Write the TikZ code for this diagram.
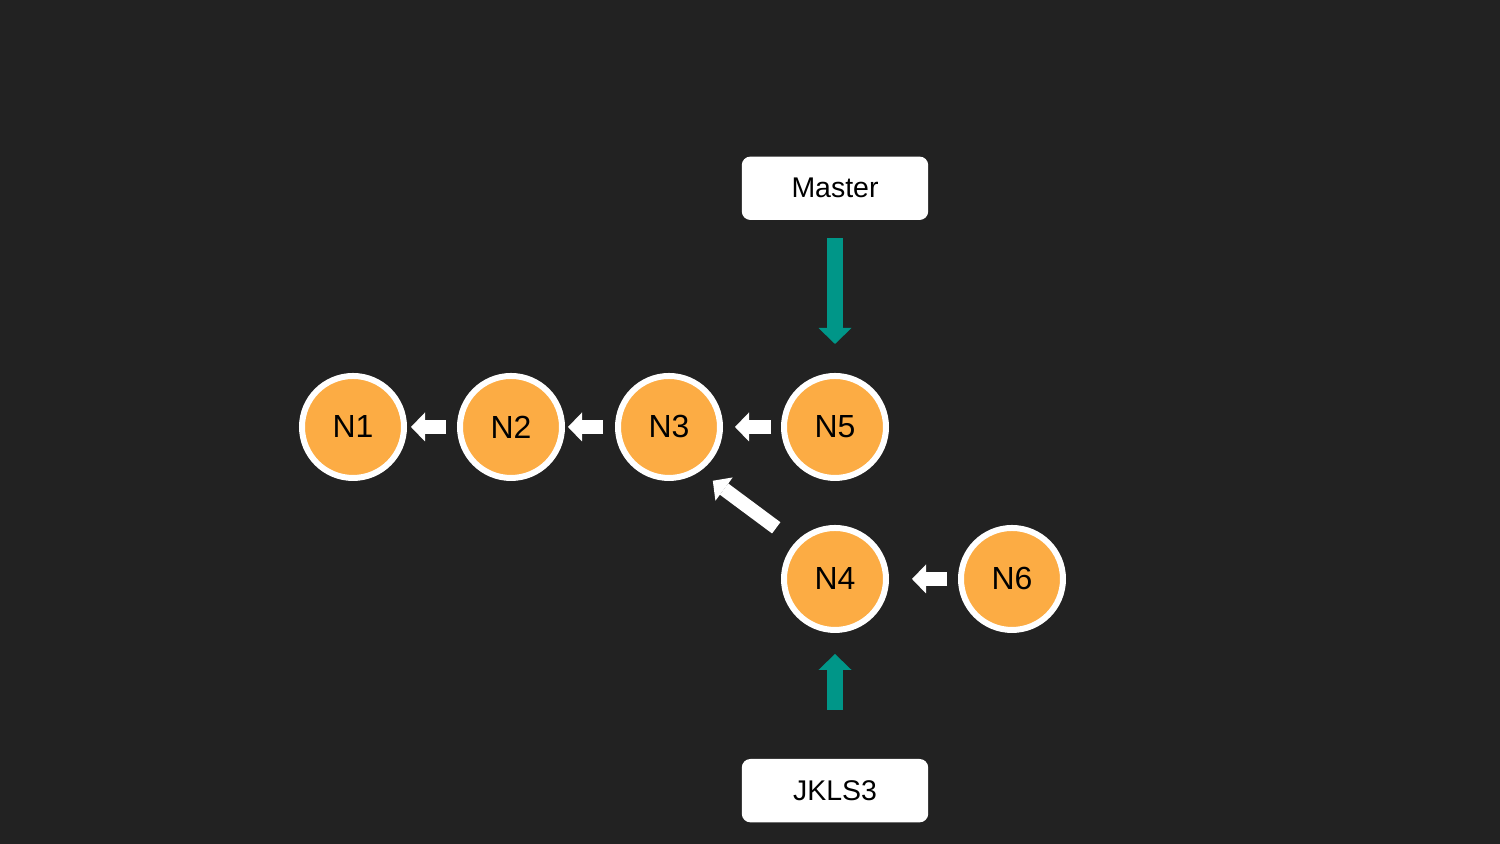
\documentclass[tikz,border=0pt]{standalone}
\usepackage{fontspec}
\setmainfont{Liberation Sans}
\usetikzlibrary{positioning,arrows.meta}
\definecolor{bgdark}{RGB}{34,34,34}
\definecolor{nodeorange}{RGB}{252,172,68}
\definecolor{headteal}{RGB}{0,150,136}
\begin{document}
\begin{tikzpicture}[auto,node distance=5mm,
    commit/.style={circle,fill=nodeorange,draw=white,line width=0.06cm,
        minimum size=1.02cm,inner sep=0pt,font=\fontsize{9.1}{11}\selectfont},
    label box/.style={rectangle,rounded corners=0.08cm,fill=white,draw=white,
        minimum width=1.85cm,minimum height=0.62cm,font=\fontsize{8.1}{10}\selectfont},
    parent/.style={white,line width=0.14cm,
        -{Triangle[width=0.29cm,length=0.14cm,line width=0pt]}},
    pointer/.style={headteal,line width=0.16cm,
        -{Triangle[width=0.33cm,length=0.16cm,line width=0pt]}}]
    \fill[bgdark] (0,0) rectangle (15,8.44);
    \useasboundingbox (0,0) rectangle (15,8.44);
    \node[commit]                    (n1)     at (3.53,4.17) {N1};
    \node[commit,right=5mm of n1]    (n2)     {N2};
    \node[commit,right=5mm of n2]    (n3)     {N3};
    \node[commit,right=5.8mm of n3]  (n5)     {N5};
    \node[commit,below=4.4mm of n5]  (n4)     {N4};
    \node[commit,right=6.9mm of n4]  (n6)     {N6};
    \node[label box,above=15.3mm of n5] (master) {Master};
    \node[label box,below=12.6mm of n4] (jkls3)  {JKLS3};
    %
    \path[parent]
        (n2)     edge[shorten <=1.1mm, shorten >=0.4mm] (n1)
        (n3)     edge[shorten <=1.2mm, shorten >=0.3mm] (n2)
        (n5)     edge[shorten <=1.0mm, shorten >=1.2mm] (n3)
        (n4.137) edge[shorten <=2.4mm, shorten >=1.6mm] (n3.-55)
        (n6)     edge[shorten <=1.1mm, shorten >=2.3mm] (n4)
    ; %-path-%
    \path[pointer]
        (master) edge[shorten <=1.8mm, shorten >=2.9mm] (n5)
        (jkls3)  edge[shorten <=4.9mm, shorten >=2.1mm] (n4)
    ; %-path-%
\end{tikzpicture}
\end{document}
